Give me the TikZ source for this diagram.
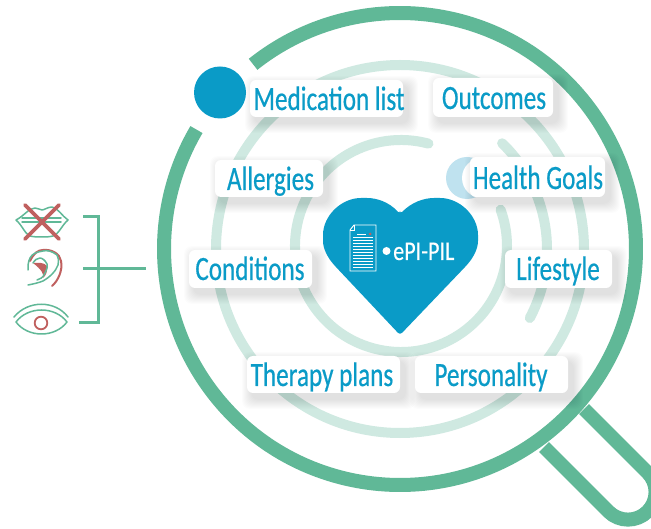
\documentclass[tikz,border=0pt]{standalone}
\usepackage{fontspec}
\newfontfamily\lab[FakeStretch=0.74,FakeBold=0.5]{Carlito}
\newfontfamily\labw[FakeStretch=0.82,FakeBold=0.3]{Carlito}
\definecolor{ringg}{HTML}{60B897}
\definecolor{ringl}{HTML}{CFE9E1}
\definecolor{bluex}{HTML}{0A9BC7}
\definecolor{moonb}{HTML}{BFE2EF}
\definecolor{redx}{HTML}{C0605F}
\tikzset{
  ringo/.style={draw=ringg,line width=14pt},
  ringm/.style={draw=ringl,line width=10pt,line cap=round},
  iconl/.style={draw=ringg,line width=1.5pt,line cap=round,line join=round},
  iconr/.style={draw=redx,line width=1.8pt,line cap=round},
  brk/.style={draw=ringg,line width=3pt},
  cardtext/.style={text=bluex,font=\lab\fontsize{34}{34}\selectfont,anchor=base,inner sep=0pt},
}
\newcommand{\card}[5]{% x1 y1 x2 y2 name (y down)
  \foreach \k in {10,9,...,1}{
    \fill[black,opacity=.012,rounded corners=8pt] (#1-\k+5,528-#4-\k-6) rectangle (#3+\k+5,528-#2+\k-6);}
  \fill[white,rounded corners=6pt] (#1,528-#4) rectangle (#3,528-#2);
}
\begin{document}
\begin{tikzpicture}[x=1pt,y=1pt]
\useasboundingbox (0,0) rectangle (651,528);
\fill[white] (0,0) rectangle (651,528);
\coordinate (C) at (400,279);
% handle
\draw[ringo] (584,119) -- (647.5,55.5) arc[start angle=45,end angle=-135,radius=27.6] -- (544,81);
% outer ring
\draw[ringo] ([shift={(128.5:236)}]C) arc[start angle=128.5,end angle=-210.4,radius=236];
% rings
\draw[ringm] (400,279) circle (184);
\draw[ringm] ([shift={(46:147)}]400,279) arc[start angle=46,end angle=-28,radius=147];
\draw[ringm] ([shift={(75:106)}]401,282) arc[start angle=75,end angle=380,radius=106];
% blue dot
\node[circle,fill=bluex,minimum size=52pt,inner sep=0pt] (dot) at (220,435.5) {};
% moon
\fill[moonb] (467,350) circle (21);
\fill[white] (482,350) circle (20);
% cards
\card{250}{80}{403}{117}{a}
\card{433}{78}{553}{117}{b}
\card{215}{160}{323}{197}{c}
\card{470}{157}{605}{197}{d}
\card{189}{250}{312}{288}{e}
\card{505}{250}{612}{288}{f}
\card{247}{356}{400}{393}{g}
\card{415}{356}{568}{393}{h}
\node[cardtext] (ta) at (329,418) {Medication list};
\node[cardtext] (tb) at (494,419) {Outcomes};
\node[cardtext] (tc) at (270.5,338) {Allergies};
\node[cardtext] (td) at (538,339) {Health Goals};
\node[cardtext] (te) at (250,248) {Conditions};
\node[cardtext] (tf) at (558,248) {Lifestyle};
\node[cardtext] (tg) at (322,142) {Therapy plans};
\node[cardtext] (th) at (491,142) {Personality};
% heart
\fill[bluex,rounded corners=3pt] (400,314)
  .. controls (412,326) and (424,330) .. (437,330)
  .. controls (460,330) and (478,312) .. (478,290)
  .. controls (478,278) and (472,269) .. (466,262)
  -- (400,193) -- (335,262)
  .. controls (329,269) and (323,278) .. (323,290)
  .. controls (323,312) and (341,330) .. (364,330)
  .. controls (377,330) and (389,326) .. (400,314) -- cycle;
% document icon
\draw[white,line width=.9pt] (354,303) -- (376,303) -- (376,257) -- (350,257) -- (350,298) -- cycle;
\draw[white,line width=.6pt] (354,303) -- (354,298) -- (350,298);
\foreach \yy in {261,264,267,270,273,276,279,282,285,288,291}{\draw[white,line width=.9pt] (353,\yy) -- (373,\yy);}
\draw[white,line width=.9pt] (357,294) -- (366,294);
\fill[redx] (370,294) circle (1.5);
% ePI-PIL
\fill[white] (386.5,277) circle (4);
\node[text=white,font=\labw\fontsize{27}{27}\selectfont,anchor=base west,inner sep=0pt] (ep) at (393,268) {ePI-PIL};
% bracket
\coordinate (b1) at (83,311); \coordinate (b2) at (98,311); \coordinate (b3) at (98,205); \coordinate (b4) at (79,205);
\coordinate (h1) at (83,259); \coordinate (h2) at (146,259);
\draw[brk] (b1) -- (b2) -- (b3) -- (b4);
\draw[brk] (h1) -- (h2);
% lips
\draw[iconl] (16,308) .. controls (24,312) and (29,320) .. (35,320) .. controls (38,320) and (40,318) .. (42,318)
  .. controls (44,318) and (48,321) .. (52,321) .. controls (58,320) and (62,312) .. (68,308)
  .. controls (62,303) and (59,294) .. (53,292) .. controls (49,291) and (45,291) .. (42,291) .. controls (38,291) and (34,291) .. (30,292) .. controls (25,294) and (22,303) .. (16,308) -- cycle;
\draw[iconl] (22,310) -- (61,310);
\draw[iconl] (22,306) -- (61,306);
\draw[redx,line width=3.6pt,line cap=round] (25,323) -- (59,289);
\draw[redx,line width=3.6pt,line cap=round] (59,323) -- (25,289);
% ear
\draw[iconr,line width=2pt] (30,267) .. controls (34,275) and (38,278) .. (43,278) .. controls (52,279) and (60,274) .. (61,267) .. controls (63,258) and (58,247) .. (52,242);
\fill[redx] (33,265) .. controls (38,265) and (44,266) .. (47,262) .. controls (48,258) and (46,252) .. (43,250) .. controls (44,254) and (42,258) .. cycle;
\draw[iconl] (28,243) .. controls (33,244) and (38,245) .. (43,247) .. controls (50,251) and (56,257) .. (58,263) .. controls (59,268) and (58,271) .. (57,273) .. controls (52,277) and (47,278) .. (43,277) .. controls (36,276) and (32,274) .. (30,270) .. controls (28,266) and (28,262) .. (28,258);
\draw[iconl] (37,248) .. controls (40,249) and (43,250) .. (45,255) .. controls (47,259) and (48,262) .. (47,264) .. controls (45,268) and (42,270) .. (40,270) .. controls (37,270) and (35,268) .. (33,265);
% eye
\draw[iconl] (16,206) .. controls (28,222) and (55,222) .. (67,206) .. controls (55,190) and (28,190) .. (16,206) -- cycle;
\draw[iconl] (14,211) .. controls (28,228) and (55,228) .. (68,211);
\draw[redx,line width=1.8pt] (41,205) circle (6.3);
\end{tikzpicture}
\end{document}
